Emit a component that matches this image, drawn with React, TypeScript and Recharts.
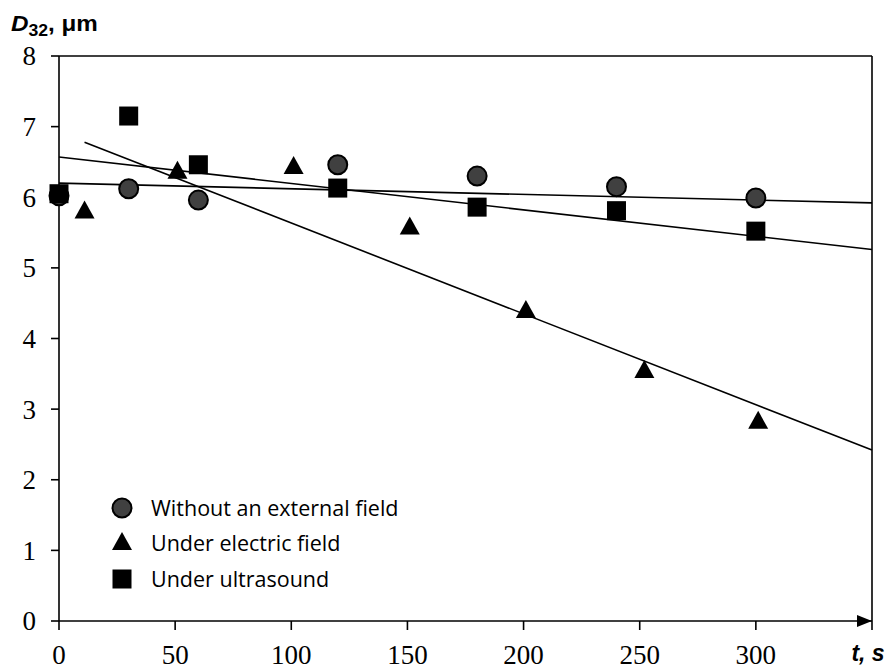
import {
	Legend,
	ReferenceDot,
	ReferenceLine,
	Scatter,
	ScatterChart,
	XAxis,
	YAxis,
} from "recharts";

// t, s -> D32, um
const NO_FIELD = [
	{ t: 0, d: 6.02 },
	{ t: 30, d: 6.12 },
	{ t: 60, d: 5.96 },
	{ t: 120, d: 6.46 },
	{ t: 180, d: 6.3 },
	{ t: 240, d: 6.15 },
	{ t: 300, d: 5.99 },
];

const ELECTRIC = [
	{ t: 11, d: 5.8 },
	{ t: 51, d: 6.36 },
	{ t: 101, d: 6.43 },
	{ t: 151, d: 5.57 },
	{ t: 201, d: 4.39 },
	{ t: 252, d: 3.54 },
	{ t: 301, d: 2.82 },
];

const ULTRASOUND = [
	{ t: 0, d: 6.05 },
	{ t: 30, d: 7.15 },
	{ t: 60, d: 6.46 },
	{ t: 120, d: 6.13 },
	{ t: 180, d: 5.86 },
	{ t: 240, d: 5.81 },
	{ t: 300, d: 5.52 },
];

// linear trend lines, end points
const TREND_NO_FIELD = [
	{ t: 0, d: 6.2 },
	{ t: 350, d: 5.92 },
];
const TREND_ELECTRIC = [
	{ t: 11, d: 6.78 },
	{ t: 350, d: 2.42 },
];
const TREND_ULTRASOUND = [
	{ t: 0, d: 6.57 },
	{ t: 350, d: 5.26 },
];

const X_TICKS = [0, 50, 100, 150, 200, 250, 300, 350];
const Y_TICKS = [0, 1, 2, 3, 4, 5, 6, 7, 8];

const SERIES_NAMES = [
	"Without an external field",
	"Under electric field",
	"Under ultrasound",
];

const SERIF = "'Liberation Serif', 'Times New Roman', serif";
const SANS = "'Liberation Sans', Arial, sans-serif";

const Circle = ({ cx, cy }: any) => (
	<circle cx={cx} cy={cy} r={9.5} fill="#404040" stroke="#000" strokeWidth={2} />
);
const Triangle = ({ cx, cy }: any) => (
	<path
		d={`M${cx},${cy - 11} L${cx + 10},${cy + 7} L${cx - 10},${cy + 7} Z`}
		fill="#000"
	/>
);
const Square = ({ cx, cy }: any) => (
	<rect x={cx - 9.5} y={cy - 9.5} width={19} height={19} fill="#000" />
);
const NoShape = () => <g />;

const MARKERS = [Circle, Triangle, Square];

const XTick = ({ x, y, payload }: any) => {
	if (payload.value === 350) {
		return (
			<text
				x={x - 4}
				y={y + 16}
				textAnchor="middle"
				fill="#000"
				style={{
					fontFamily: SANS,
					fontWeight: "bold",
					fontStyle: "italic",
					fontSize: 23,
				}}
			>
				t, s
			</text>
		);
	}
	return (
		<text
			x={x}
			y={y}
			dy="0.71em"
			textAnchor="middle"
			fill="#000"
			style={{ fontFamily: SERIF, fontSize: 27 }}
		>
			{payload.value}
		</text>
	);
};

const YTick = ({ x, y, payload }: any) => (
	<text
		x={x}
		y={y}
		dy="0.35em"
		textAnchor="end"
		fill="#000"
		style={{ fontFamily: SERIF, fontSize: 27 }}
	>
		{payload.value}
	</text>
);

const LegendBox = () => (
	<div>
		{SERIES_NAMES.map((name, i) => {
			const Marker = MARKERS[i];
			return (
				<div
					key={name}
					style={{ display: "flex", alignItems: "center", height: 35.5 }}
				>
					<svg width={30} height={30} style={{ marginRight: 14 }}>
						<Marker cx={15} cy={15} />
					</svg>
					<span
						style={{
							fontFamily: "'Open Sans', sans-serif",
							fontSize: 21.5,
							color: "#000",
							lineHeight: "30px",
						}}
					>
						{name}
					</span>
				</div>
			);
		})}
	</div>
);

const ArrowHead = ({ cx, cy }: any) => (
	<path
		d={`M${cx},${cy} L${cx - 15},${cy - 6} L${cx - 15},${cy + 6} Z`}
		fill="#000"
	/>
);

export default function App() {
	return (
		<div style={{ position: "absolute", left: 0, top: 0, background: "#fff" }}>
			<div
				style={{
					position: "absolute",
					left: 11,
					top: 11,
					fontFamily: SANS,
					fontWeight: "bold",
					fontSize: 22,
					lineHeight: "26px",
					transform: "scaleX(1.1)",
					transformOrigin: "left top",
					zIndex: 2,
					whiteSpace: "nowrap",
				}}
			>
				<i>D</i>
				<sub style={{ fontSize: 16, lineHeight: 0 }}>32</sub>, μm
			</div>
			<ScatterChart
				width={890}
				height={669}
				margin={{ top: 56, right: 18, bottom: 0, left: 0 }}
			>
				<XAxis
					type="number"
					dataKey="t"
					domain={[0, 350]}
					ticks={X_TICKS}
					interval={0}
					tick={<XTick />}
					tickSize={9}
					tickMargin={15}
					height={48}
					axisLine={{ stroke: "#000", strokeWidth: 1.6 }}
					tickLine={{ stroke: "#000", strokeWidth: 1.6 }}
				/>
				<YAxis
					type="number"
					dataKey="d"
					domain={[0, 8]}
					ticks={Y_TICKS}
					interval={0}
					width={59}
					tickSize={8}
					tickMargin={15}
					tick={<YTick />}
					axisLine={{ stroke: "#000", strokeWidth: 1.6 }}
					tickLine={{ stroke: "#000", strokeWidth: 1.6 }}
				/>
				<ReferenceLine y={8} stroke="#000" strokeWidth={1.6} />
				<ReferenceLine x={350} stroke="#000" strokeWidth={1.6} />
				<ReferenceDot
					x={350}
					y={0}
					shape={<ArrowHead />}
					ifOverflow="visible"
				/>
				<Scatter
					data={TREND_NO_FIELD}
					line={{ stroke: "#000", strokeWidth: 1.6 }}
					shape={<NoShape />}
					legendType="none"
					isAnimationActive={false}
				/>
				<Scatter
					data={TREND_ELECTRIC}
					line={{ stroke: "#000", strokeWidth: 1.6 }}
					shape={<NoShape />}
					legendType="none"
					isAnimationActive={false}
				/>
				<Scatter
					data={TREND_ULTRASOUND}
					line={{ stroke: "#000", strokeWidth: 1.6 }}
					shape={<NoShape />}
					legendType="none"
					isAnimationActive={false}
				/>
				<Scatter
					name={SERIES_NAMES[0]}
					data={NO_FIELD}
					shape={<Circle />}
					isAnimationActive={false}
				/>
				<Scatter
					name={SERIES_NAMES[1]}
					data={ELECTRIC}
					shape={<Triangle />}
					isAnimationActive={false}
				/>
				<Scatter
					name={SERIES_NAMES[2]}
					data={ULTRASOUND}
					shape={<Square />}
					isAnimationActive={false}
				/>
				<Legend
					layout="vertical"
					align="center"
					verticalAlign="middle"
					content={<LegendBox />}
					wrapperStyle={{ left: 107, top: 490, width: 360 }}
				/>
			</ScatterChart>
		</div>
	);
}
